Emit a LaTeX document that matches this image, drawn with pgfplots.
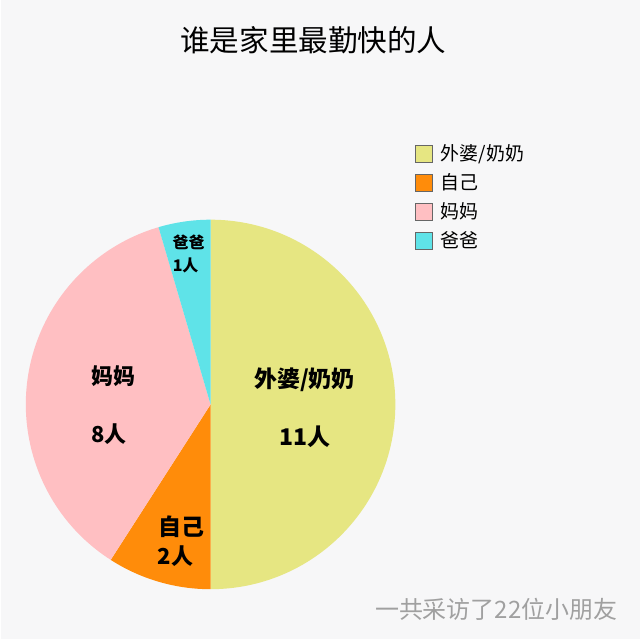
\documentclass[border=0pt]{standalone}
\usepackage{pgfplots}
\pgfplotsset{compat=1.18}
\usepackage{fontspec}
\setmainfont{Noto Sans CJK SC}
\newfontfamily\cjk{Noto Sans CJK SC}
\definecolor{bg}{HTML}{F7F7F8}
\definecolor{cYel}{HTML}{E6E682}
\definecolor{cOra}{HTML}{FF8C0A}
\definecolor{cPin}{HTML}{FFBFC2}
\definecolor{cCya}{HTML}{5FE3E8}
\definecolor{ftgray}{HTML}{A0A0A0}
% values: 外婆/奶奶 11, 自己 2, 妈妈 8, 爸爸 1 (total 22)
\def\vA{11}\def\vB{2}\def\vC{8}\def\vD{1}\def\vT{22}
\pgfmathsetmacro\aA{90}
\pgfmathsetmacro\aB{\aA-360*\vA/\vT}
\pgfmathsetmacro\aC{\aB-360*\vB/\vT}
\pgfmathsetmacro\aD{\aC-360*\vC/\vT}
\pgfmathsetmacro\aE{\aD-360*\vD/\vT}
\begin{document}
\begin{tikzpicture}
\begin{axis}[x=0.5pt,y=0.5pt,xmin=0,xmax=640,ymin=0,ymax=640,
  hide axis,clip=false]
\fill[bg] (axis cs:0,0) rectangle (axis cs:640,640);
% pie slices
\fill[cYel] (axis cs:210,235) -- ++(\aA:92.5pt) arc[start angle=\aA,end angle=\aB,radius=92.5pt] -- cycle;
\fill[cOra] (axis cs:210,235) -- ++(\aB:92.5pt) arc[start angle=\aB,end angle=\aC,radius=92.5pt] -- cycle;
\fill[cPin] (axis cs:210,235) -- ++(\aC:92.5pt) arc[start angle=\aC,end angle=\aD,radius=92.5pt] -- cycle;
\fill[cCya] (axis cs:210,235) -- ++(\aD:92.5pt) arc[start angle=\aD,end angle=\aE,radius=92.5pt] -- cycle;
% title
\node[font=\cjk\fontsize{14.8}{16}\selectfont] at (axis cs:313,600) {谁是家里最勤快的人};
% slice labels
\node[font=\cjk\bfseries\fontsize{11.5}{13}\selectfont] at (axis cs:304,260) {外婆/奶奶};
\node[font=\cjk\bfseries\fontsize{11.5}{13}\selectfont] at (axis cs:305,203) {11人};
\node[font=\cjk\bfseries\fontsize{11}{13}\selectfont] at (axis cs:113,263) {妈妈};
\node[font=\cjk\bfseries\fontsize{11}{13}\selectfont] at (axis cs:108,205) {8人};
\node[font=\cjk\bfseries\fontsize{11.5}{13}\selectfont] at (axis cs:181,113) {自己};
\node[font=\cjk\bfseries\fontsize{11}{13}\selectfont] at (axis cs:175,83) {2人};
\node[font=\cjk\bfseries\fontsize{8}{10}\selectfont] at (axis cs:188,397) {爸爸};
\node[font=\cjk\bfseries\fontsize{8}{10}\selectfont] at (axis cs:185,374) {1人};
% legend
\filldraw[fill=cYel,draw=gray!80!black,line width=0.4pt] (axis cs:415,477) rectangle (axis cs:432,494);
\filldraw[fill=cOra,draw=gray!80!black,line width=0.4pt] (axis cs:415,448) rectangle (axis cs:432,465);
\filldraw[fill=cPin,draw=gray!80!black,line width=0.4pt] (axis cs:415,419) rectangle (axis cs:432,436);
\filldraw[fill=cCya,draw=gray!80!black,line width=0.4pt] (axis cs:415,390) rectangle (axis cs:432,407);
\node[anchor=west,inner sep=0pt,font=\cjk\fontsize{9.5}{11}\selectfont] at (axis cs:440,486) {外婆/奶奶};
\node[anchor=west,inner sep=0pt,font=\cjk\fontsize{9.5}{11}\selectfont] at (axis cs:440,457) {自己};
\node[anchor=west,inner sep=0pt,font=\cjk\fontsize{9.5}{11}\selectfont] at (axis cs:440,428) {妈妈};
\node[anchor=west,inner sep=0pt,font=\cjk\fontsize{9.5}{11}\selectfont] at (axis cs:440,399) {爸爸};
% footer
\node[text=ftgray,font=\cjk\fontsize{12}{14}\selectfont] at (axis cs:496,30) {一共采访了22位小朋友};
\end{axis}
\end{tikzpicture}
\end{document}
